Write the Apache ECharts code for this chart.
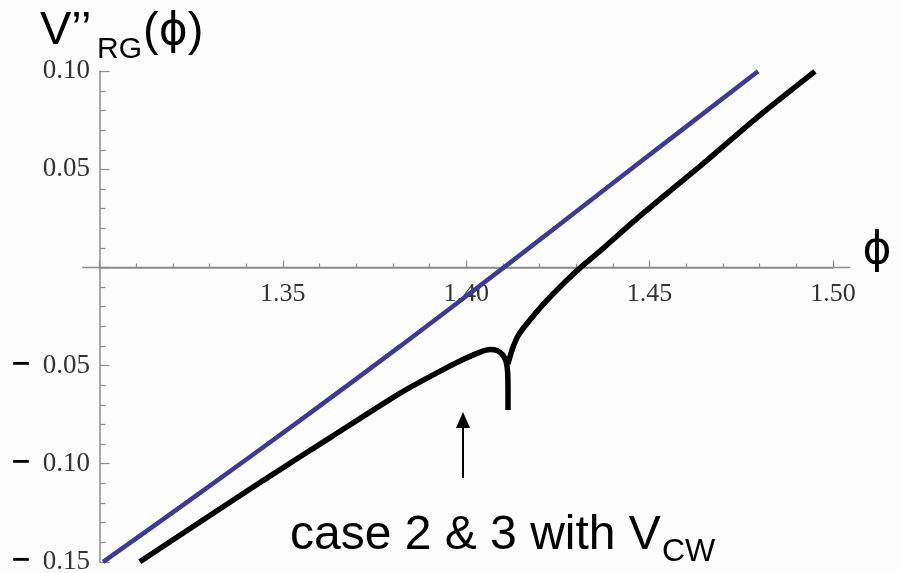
<!DOCTYPE html>
<html>
<head>
<meta charset="utf-8">
<script src="https://cdn.jsdelivr.net/npm/echarts@6/dist/echarts.min.js"></script>
<style>
  html, body { margin: 0; padding: 0; background: #fdfdfd; }
  #chart { width: 901px; height: 573px; }
</style>
</head>
<body>
<div id="chart"></div>
<script>
// V''_RG(phi) curves: the plain potential (blue) and case 2 & 3 with V_CW (black)
const blueCurve = [
  [1.3010, -0.150], [1.3274, -0.1149], [1.3547, -0.0779], [1.3820, -0.0401],
  [1.4111, 0.0012], [1.4447, 0.0498], [1.4796, 0.100]
];
// left branch runs into the cusp and dips down
const blackLeft = [
  [1.3110, -0.150], [1.3274, -0.1297], [1.3446, -0.1086], [1.3629, -0.0867],
  [1.3820, -0.0640], [1.3929, -0.0528], [1.3997, -0.0464], [1.4038, -0.0431],
  [1.4065, -0.0418], [1.4084, -0.0423], [1.4100, -0.0446], [1.4109, -0.0482],
  [1.4113, -0.0533], [1.4114, -0.0624], [1.4114, -0.0726]
];
// right branch leaves the cusp and rises
const blackRight = [
  [1.4114, -0.0492], [1.4120, -0.0451], [1.4128, -0.0405], [1.4141, -0.0349],
  [1.4155, -0.0311], [1.4182, -0.0249], [1.4220, -0.0168], [1.4264, -0.0084],
  [1.4310, -0.0003], [1.4365, 0.0084], [1.4474, 0.0263], [1.4638, 0.0517],
  [1.4801, 0.0777], [1.4951, 0.100]
];
const xRange = [1.30, 1.50];
const yRange = [-0.15, 0.10];
const xTickStep = 0.05;
const yTickStep = 0.05;
// the x axis line runs a little past both ends of the tick range
const xLineExtent = [1.2953, 1.5047];

const axisGray = '#8c8c8c';
const labelFont = '"Liberation Serif", "DejaVu Serif", serif';
const sansFont = '"Liberation Sans", Arial, sans-serif';

const gridTop = 71.3, gridHeight = 490.5;
// shift of the x axis from the grid bottom up to y = 0
const zeroShift = -gridHeight * (0 - yRange[0]) / (yRange[1] - yRange[0]);

const chart = echarts.init(document.getElementById('chart'));
chart.setOption({
  animation: false,
  backgroundColor: '#fdfdfd',
  grid: { left: 99.5, top: gridTop, width: 733.4, height: gridHeight, containLabel: false, outerBoundsMode: 'none' },
  xAxis: {
    type: 'value', min: xRange[0], max: xRange[1], interval: xTickStep,
    offset: zeroShift,
    axisLine: { onZero: false, lineStyle: { color: axisGray, width: 1.5 } },
    axisTick: { inside: true, length: 7, lineStyle: { color: axisGray, width: 1.2 } },
    minorTick: { show: true, splitNumber: 5, length: 4, lineStyle: { color: axisGray, width: 1.2 } },
    splitLine: { show: false },
    axisLabel: {
      margin: 14,
      fontFamily: labelFont, fontSize: 26, color: '#333',
      formatter: v => (v > 1.3001) ? v.toFixed(2) : ''
    }
  },
  yAxis: {
    type: 'value', min: yRange[0], max: yRange[1], interval: yTickStep,
    axisLine: { lineStyle: { color: axisGray, width: 1.5 } },
    axisTick: { inside: true, length: 10, lineStyle: { color: axisGray, width: 1.2 } },
    minorTick: { show: true, splitNumber: 5, length: 6, lineStyle: { color: axisGray, width: 1.2 } },
    splitLine: { show: false },
    axisLabel: {
      margin: 9.5, fontFamily: labelFont, fontSize: 27, color: '#333',
      formatter: v => {
        if (Math.abs(v) < 1e-9) return '';
        const s = Math.abs(v).toFixed(2);
        return v < 0 ? '{m|−}{n|' + s + '}' : '{n|' + s + '}';
      },
      rich: {
        m: { fontFamily: '"DejaVu Sans", sans-serif', fontWeight: 'bold', fontSize: 25, color: '#000', padding: [0, 11, 3, 0] },
        n: { fontFamily: labelFont, fontSize: 27, color: '#333' }
      }
    }
  },
  series: [
    {
      type: 'line', data: blueCurve, showSymbol: false, smooth: 0.3,
      lineStyle: { color: '#3c3a92', width: 4.5 }
    },
    {
      type: 'line', data: blackLeft, showSymbol: false, smooth: 0.25,
      lineStyle: { color: '#000', width: 5.5 }
    },
    {
      type: 'line', data: blackRight, showSymbol: false, smooth: 0.2,
      lineStyle: { color: '#000', width: 5.5 }
    }
  ]
});

// axis-line extension plus the text annotations
const p0 = chart.convertToPixel({ gridIndex: 0 }, [xLineExtent[0], 0]);
const p1 = chart.convertToPixel({ gridIndex: 0 }, [xLineExtent[1], 0]);
chart.setOption({
  graphic: [
    { type: 'line', shape: { x1: p0[0], y1: p0[1], x2: p1[0], y2: p1[1] }, style: { stroke: axisGray, lineWidth: 1.5 }, z: 1 },
    { type: 'text', x: 40, y: 31.5, style: { text: 'V’’', fontFamily: sansFont, fontSize: 47, fill: '#000', align: 'left', verticalAlign: 'middle' } },
    { type: 'text', x: 97, y: 50, style: { text: 'RG', fontFamily: sansFont, fontSize: 30, fill: '#000', align: 'left', verticalAlign: 'middle' } },
    { type: 'text', x: 143, y: 32.5, style: {
        text: '({p|ϕ})', fontFamily: sansFont, fontSize: 47, fill: '#000', align: 'left', verticalAlign: 'middle',
        rich: { p: { fontFamily: '"DejaVu Sans", sans-serif', fontSize: 44, fill: '#000' } } } },
    { type: 'text', x: 877, y: 252, style: { text: 'ϕ', fontFamily: '"DejaVu Sans", sans-serif', fontSize: 44, fill: '#000', align: 'center', verticalAlign: 'middle' } },
    { type: 'line', shape: { x1: 463, y1: 478, x2: 463, y2: 424 }, style: { stroke: '#000', lineWidth: 2 } },
    { type: 'polygon', shape: { points: [[463, 412], [456, 428], [470, 428]] }, style: { fill: '#000' } },
    { type: 'text', x: 290, y: 536, style: { text: 'case 2 & 3 with V', fontFamily: sansFont, fontSize: 48, fill: '#000', align: 'left', verticalAlign: 'middle' } },
    { type: 'text', x: 662, y: 552.5, style: { text: 'CW', fontFamily: sansFont, fontSize: 32, fill: '#000', align: 'left', verticalAlign: 'middle' } }
  ]
});
</script>
</body>
</html>
